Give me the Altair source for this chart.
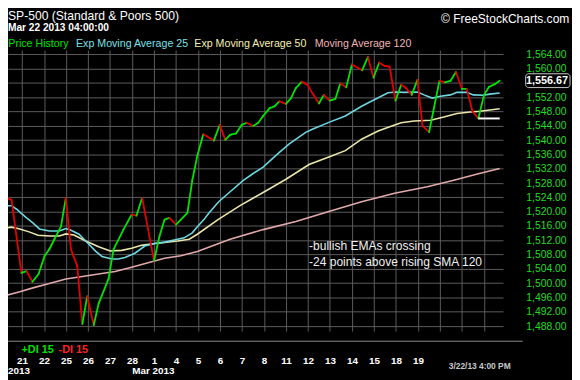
import altair as alt
import pandas as pd

# ---------------- data ----------------
DAY_LABELS = ["20", "21", "22", "25", "26", "27", "28", "1", "4", "5", "6", "7", "8",
              "11", "12", "13", "14", "15", "18", "19", "20", "21", "22"]

PRICE_T = [0.00, 0.27, 0.52, 0.97, 1.20, 1.47, 1.75, 2.02, 2.24, 2.47, 2.77, 2.99, 3.22, 3.51,
           3.74, 3.96, 4.26, 4.48, 4.93, 5.16, 5.61, 5.98, 6.20, 6.46, 7.00, 7.25, 7.48, 7.70,
           8.00, 8.22, 8.52, 8.74, 8.97, 9.24, 9.72, 9.99, 10.24, 10.46, 10.73, 10.99, 11.21,
           11.51, 11.74, 11.96, 12.26, 12.48, 12.70, 13.00, 13.23, 13.45, 13.72, 13.98, 14.20,
           14.50, 14.72, 14.99, 15.25, 15.47, 15.74, 16.00, 16.47, 16.73, 16.98, 17.24, 17.49,
           17.71, 17.98, 18.24, 18.46, 18.72, 18.98, 19.21, 19.51, 19.98, 20.22, 20.48, 20.73,
           21.00, 21.22, 21.48, 21.75, 22.01, 22.23, 22.50, 22.72]
PRICE_V = [1528.0, 1523.9, 1523.3, 1502.9, 1503.4, 1500.4, 1502.6, 1507.6, 1509.5, 1512.3,
           1515.9, 1523.9, 1509.5, 1504.8, 1488.6, 1496.3, 1488.3, 1494.3, 1501.2, 1509.5,
           1515.0, 1519.2, 1518.9, 1523.9, 1506.3, 1513.2, 1517.8, 1518.3, 1516.4, 1517.8,
           1519.7, 1528.8, 1535.7, 1541.7, 1539.9, 1544.3, 1540.1, 1541.5, 1541.9, 1544.3,
           1544.9, 1544.0, 1544.9, 1546.8, 1549.0, 1549.5, 1550.9, 1550.2, 1551.8, 1554.6,
           1556.4, 1555.5, 1553.2, 1550.3, 1552.7, 1551.1, 1551.6, 1555.9, 1554.8, 1561.2,
           1559.6, 1563.3, 1557.5, 1561.7, 1560.8, 1560.6, 1551.1, 1555.5, 1554.6, 1552.7,
           1556.9, 1544.0, 1542.3, 1556.6, 1556.2, 1556.6, 1559.1, 1554.4, 1554.4, 1548.1,
           1546.1, 1552.7, 1554.9, 1555.7, 1556.67]

EMA25_T = [0.00, 0.52, 0.75, 1.12, 1.49, 1.79, 2.24, 2.69, 2.99, 3.22, 3.59, 3.96, 4.34, 4.63,
           5.08, 5.38, 5.68, 6.13, 6.58, 7.03, 7.48, 7.92, 8.37, 8.74, 8.97, 9.27, 9.49, 9.94,
           10.46, 11.06, 11.51, 11.96, 12.70, 13.15, 13.90, 14.20, 14.95, 15.70, 16.44, 17.04,
           17.64, 18.01, 18.39, 18.98, 19.28, 19.65, 20.03, 20.48, 20.78, 21.22, 21.52, 21.97,
           22.27, 22.72]
EMA25_V = [1521.7, 1521.7, 1520.7, 1518.7, 1516.9, 1515.2, 1514.6, 1514.6, 1515.3, 1514.8,
           1513.7, 1511.4, 1509.0, 1507.5, 1506.8, 1506.8, 1507.2, 1508.4, 1510.4, 1511.1,
           1511.5, 1512.1, 1512.7, 1514.1, 1515.8, 1517.8, 1519.6, 1522.8, 1525.6, 1528.8,
           1530.7, 1532.5, 1536.6, 1539.0, 1542.2, 1543.1, 1545.0, 1546.8, 1549.5, 1551.4,
           1553.3, 1553.5, 1553.4, 1553.5, 1552.7, 1551.8, 1552.3, 1552.7, 1553.4, 1553.4,
           1552.7, 1552.6, 1552.9, 1553.2]

EMA50_T = [0.00, 0.52, 0.90, 1.35, 1.72, 2.24, 2.69, 2.99, 3.36, 3.89, 4.48, 5.01, 5.53, 5.98,
           6.43, 7.03, 7.48, 8.07, 8.60, 8.97, 9.91, 10.91, 11.96, 13.00, 14.05, 14.95, 15.70,
           16.44, 17.19, 17.94, 18.24, 18.83, 19.58, 20.18, 20.78, 21.38, 21.82, 22.72]
EMA50_V = [1515.2, 1515.7, 1515.2, 1514.3, 1513.4, 1513.2, 1513.2, 1513.8, 1513.5, 1511.8,
           1510.2, 1509.0, 1509.2, 1509.8, 1510.6, 1511.1, 1511.4, 1511.8, 1512.3, 1513.7,
           1517.8, 1521.7, 1525.4, 1529.1, 1533.2, 1535.3, 1537.1, 1540.3, 1542.6, 1544.3,
           1544.9, 1545.4, 1545.6, 1546.5, 1547.5, 1547.9, 1548.1, 1548.8]

MA120_T = [0.00, 0.90, 1.49, 2.24, 2.99, 3.74, 4.48, 5.23, 5.98, 6.73, 7.48, 8.22, 8.97,
           10.46, 11.96, 13.45, 14.95, 16.44, 17.94, 19.43, 20.63, 21.75, 22.72]
MA120_V = [1496.2, 1497.6, 1498.7, 1499.9, 1501.2, 1501.9, 1502.6, 1503.3, 1504.5, 1505.7,
           1507.0, 1507.7, 1508.9, 1512.3, 1515.0, 1517.3, 1520.1, 1522.8, 1525.2, 1527.0,
           1528.8, 1530.6, 1532.1]

Y_TICKS = list(range(1488, 1565, 4))
LAST_PRICE = [1556.67]
SUPPORT_T = [21.75]
SUPPORT_T2 = [22.72]
SUPPORT_V = [1546.1]

# ---------------- style ----------------
FONT = "Liberation Sans"
GREEN = "#00e600"
RED = "#e60000"
C_EMA25 = "#6ed7e1"
C_EMA50 = "#ebe6aa"
C_MA120 = "#e1aaaa"
GRID = "#5c5c5c"

W, H = 502, 285

seg = pd.DataFrame({"t": PRICE_T[:-1], "t2": PRICE_T[1:],
                    "v": PRICE_V[:-1], "v2": PRICE_V[1:]})
seg["dir"] = ["up" if b >= a else "down" for a, b in zip(seg["v"], seg["v2"])]

xs = alt.Scale(domain=[0.359, 22.87], nice=False, zero=False)
ys = alt.Scale(domain=[1486.62, 1565.24], nice=False, zero=False)

lab = "[" + ",".join("'%s'" % d for d in DAY_LABELS) + "]"
xaxis = alt.Axis(values=list(range(1, 23)), orient="bottom", title=None,
                 labelExpr="datum.value <= 19 ? %s[datum.value] : ''" % lab,
                 grid=True, gridColor=GRID, gridWidth=1, ticks=False, tickSize=0,
                 domain=False, labelPadding=29.7, labelBaseline="middle",
                 labelColor="#ffffff", labelFont=FONT, labelFontSize=10,
                 labelFontWeight="bold", labelOverlap=False, labelFlush=False)
yaxis = alt.Axis(values=Y_TICKS, orient="right", title=None,
                 labelExpr="datum.value == 1556 ? '' : format(datum.value, ',.2f')",
                 grid=True, gridColor=GRID, gridWidth=1, ticks=False, tickSize=0,
                 domain=False, labelAlign="right", labelPadding=64,
                 labelBaseline="middle", labelColor="#22dd22", labelFont=FONT,
                 labelFontSize=10.5, labelOverlap=False, labelFlush=False)

X = alt.X("t:Q", scale=xs, axis=xaxis)
Y = alt.Y("v:Q", scale=ys, axis=yaxis)


def series(t, v, color, width=1.6):
    return alt.Chart(pd.DataFrame({"t": t, "v": v})).mark_line(
        color=color, strokeWidth=width, clip=True).encode(x=X, y=Y)


def label(text, x, y, color, size, weight="normal", align="left", baseline="alphabetic"):
    return alt.Chart(pd.DataFrame({"s": [text]})).mark_text(
        color=color, font=FONT, fontSize=size, fontWeight=weight,
        align=align, baseline=baseline).encode(
        x=alt.value(x), y=alt.value(y), text="s:N")


ma120 = series(MA120_T, MA120_V, C_MA120)
ema50 = series(EMA50_T, EMA50_V, C_EMA50)
ema25 = series(EMA25_T, EMA25_V, C_EMA25)

price = alt.Chart(seg).mark_rule(strokeWidth=1.8, clip=True, strokeCap="round").encode(
    x=X, x2="t2:Q", y=Y, y2="v2:Q",
    color=alt.Color("dir:N", scale=alt.Scale(domain=["up", "down"], range=[GREEN, RED]),
                    legend=None))

support = alt.Chart(pd.DataFrame({"t": SUPPORT_T, "t2": SUPPORT_T2, "v": SUPPORT_V})).mark_rule(
    color="white", strokeWidth=2, clip=True).encode(x=X, x2="t2:Q", y=Y)

last_df = pd.DataFrame({"v": LAST_PRICE})
box = alt.Chart(last_df).transform_calculate(
    top="datum.v + 1.93", bot="datum.v - 1.93").mark_rect(
    fill="black", stroke="#c8c8c8", strokeWidth=1, cornerRadius=3).encode(
    x=alt.value(525), x2=alt.value(570),
    y=alt.Y("top:Q", scale=ys, axis=yaxis), y2="bot:Q")
box_text = alt.Chart(last_df).mark_text(
    color="white", font=FONT, fontSize=11, fontWeight="bold", align="right",
    baseline="middle").encode(
    x=alt.value(568), y=alt.Y("v:Q", scale=ys, axis=yaxis),
    text=alt.Text("v:Q", format=",.2f"))

sep = alt.Chart(pd.DataFrame({"s": [0]})).mark_rule(color="#8a8a8a", strokeWidth=1).encode(
    x=alt.value(0), x2=alt.value(522), y=alt.value(295.3))

texts = [
    label("SP-500 (Standard & Poors 500)", 0, -30.5, "#ffffff", 12.3),
    label("Mar 22 2013 04:00:00", 0, -19.7, "#ffffff", 10.3, "bold"),
    label("© FreeStockCharts.com", 569.3, -27.5, "#ffffff", 12.2, align="right"),
    label("Price History", 0.3, -3.2, "#00e000", 10.8),
    label("Exp Moving Average 25", 69, -3.2, "#78e0e8", 10.8),
    label("Exp Moving Average 50", 189, -3.2, "#f5f0b4", 10.8),
    label("Moving Average 120", 311, -3.2, "#f0b4b4", 10.8),
    label("-bullish EMAs crossing", 305.3, 199.3, "#f0f0f0", 12.2, baseline="middle"),
    label("-24 points above rising SMA 120", 305.3, 214.7, "#f0f0f0", 12.2, baseline="middle"),
    label("+DI 15", 13.7, 304.5, "#00e000", 11, "bold", baseline="middle"),
    label("-DI 15", 51.3, 304.5, "#ff2020", 11, "bold", baseline="middle"),
    label("2013", 0, 326, "#ffffff", 10, "bold", baseline="middle"),
    label("Mar 2013", 126, 326, "#ffffff", 10, "bold", baseline="middle"),
    label("3/22/13 4:00 PM", 447, 320.5, "#c8c8c8", 8.5, "bold", baseline="middle"),
]

chart = alt.layer(ma120, ema50, ema25, price, support, box, box_text, sep, *texts).properties(
    width=W, height=H,
    padding={"left": 0, "top": 40, "right": 70, "bottom": 47},
    autosize=alt.AutoSizeParams(type="none"),
).configure(background="black").configure_view(strokeWidth=0)

chart.save("out.html", embed_options={"renderer": "svg", "actions": False})
